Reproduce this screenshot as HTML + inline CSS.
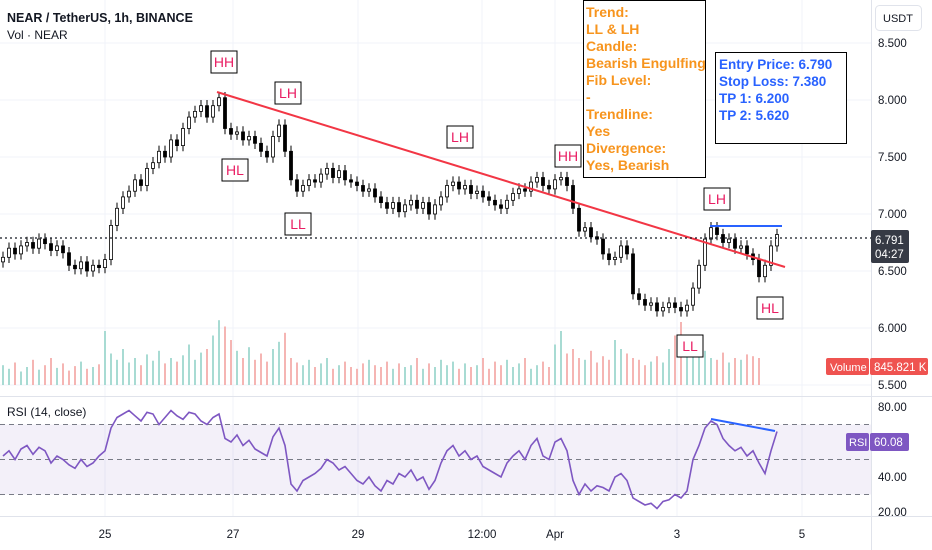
<!DOCTYPE html>
<html><head><meta charset="utf-8"><style>
body{margin:0;background:#fff;font-family:"Liberation Sans",sans-serif;}
svg{display:block}
text{font-family:"Liberation Sans",sans-serif}
</style></head><body>
<svg id="c" width="932" height="550" xmlns="http://www.w3.org/2000/svg"></svg>
<script>
const closes=[6.62,6.70,6.65,6.72,6.75,6.70,6.78,6.74,6.68,6.72,6.66,6.55,6.52,6.58,6.50,6.55,6.53,6.60,
6.90,7.05,7.15,7.20,7.30,7.25,7.40,7.45,7.55,7.50,7.65,7.60,7.75,7.85,7.90,7.95,7.85,7.95,8.02,
7.75,7.70,7.72,7.65,7.68,7.62,7.55,7.50,7.68,7.78,7.55,7.30,7.20,7.25,7.30,7.28,7.35,7.40,7.32,7.38,7.30,7.28,7.25,7.20,7.22,7.15,7.10,7.05,7.10,7.02,7.08,7.12,7.05,7.10,7.00,7.08,
7.15,7.25,7.28,7.22,7.25,7.18,7.20,7.15,7.12,7.08,7.05,7.12,7.18,7.22,7.20,7.28,7.32,7.25,7.22,7.30,7.32,7.25,
7.05,6.85,6.88,6.80,6.78,6.65,6.60,6.62,6.72,6.65,6.30,6.25,6.20,6.22,6.15,6.18,6.22,6.18,6.15,6.20,
6.35,6.55,6.78,6.88,6.82,6.75,6.78,6.70,6.72,6.65,6.60,6.45,6.55,6.72,6.82];
const volumes=[22,18,25,15,20,28,17,22,30,19,24,16,21,26,18,20,23,60,
35,28,40,25,30,22,34,27,38,24,30,26,33,45,28,36,40,55,72,
65,50,38,30,42,28,35,26,40,48,58,30,25,22,28,20,24,30,18,22,26,20,18,24,28,22,20,26,18,24,20,22,30,18,24,
20,28,22,26,18,24,20,22,30,18,26,22,28,20,24,30,18,22,26,20,
45,60,35,40,30,28,38,25,32,28,50,40,35,30,28,22,26,32,25,40,
55,70,48,42,35,38,30,28,36,25,30,28,34,32,30];
const rsiVals=[52,55,50,56,58,53,57,55,48,52,50,47,45,50,46,48,52,55,
68,74,76,78,75,72,77,76,70,74,78,75,73,77,76,72,70,74,76,
62,60,64,58,61,56,54,52,63,68,58,36,32,38,40,42,45,50,48,44,46,42,38,36,
40,35,32,38,36,42,40,44,38,40,33,38,48,55,58,52,55,50,52,46,44,42,40,
48,52,55,50,58,62,52,50,60,62,55,38,30,36,32,35,34,32,40,42,38,
28,26,24,25,22,26,27,30,28,32,50,58,68,72,70,62,58,55,57,52,55,48,42,55,66];
const priceTicks=["8.500","8.000","7.500","7.000","6.500","6.000","5.500"];
const rsiTicks=["80.00","60.00","40.00","20.00"];
const timeLabels=["25","27","29","12:00","Apr","3","5"];
const timeX=[105,233,358,482,555,677,802];

const S=document.getElementById('c');const NS="http://www.w3.org/2000/svg";
function el(t,a,txt){const e=document.createElementNS(NS,t);for(const k in a)e.setAttribute(k,a[k]);if(txt!==undefined)e.textContent=txt;S.appendChild(e);return e;}
const py=p=>100+(8-p)*114;
const ry=v=>407+(80-v)*1.75;
const cx=i=>3+i*6;
const vy=v=>385-v*0.9;

for(let k=0;k<priceTicks.length;k++){const g=el('line',{x1:0,x2:871,y1:py(+priceTicks[k]),y2:py(+priceTicks[k]),stroke:'#f0f3fa'});
}
for(let k=0;k<timeX.length;k++){const g=el('line',{x1:timeX[k],x2:timeX[k],y1:0,y2:516,stroke:'#f0f3fa'});
}

for(let i=0;i<volumes.length;i++){const up=i===0||closes[i]>=closes[i-1];
const b=el('rect',{x:cx(i)-1,y:vy(volumes[i]),width:2,height:385-vy(volumes[i]),fill:up?'#a8dbd3':'#f5b5b3'});
}

for(let i=0;i<closes.length;i++){const o=i===0?closes[0]-0.04:closes[i-1],c=closes[i];
const hi=Math.max(o,c)+0.05,lo=Math.min(o,c)-0.05;
const w=el('line',{x1:cx(i),x2:cx(i),y1:py(hi),y2:py(lo),stroke:'#000'});

const top=py(Math.max(o,c)),h=Math.max(1,Math.abs(py(o)-py(c)));
const r=el('rect',{x:cx(i)-1.5,y:top,width:3,height:h,fill:c>=o?'#fff':'#000',stroke:'#000','stroke-width':0.8});
}

let l=el('line',{x1:217,y1:92,x2:785,y2:267,stroke:'#f23645','stroke-width':2});

l=el('line',{x1:710,y1:226,x2:782,y2:226,stroke:'#2962ff','stroke-width':2});

l=el('line',{x1:0,y1:238,x2:871,y2:238,stroke:'#131722','stroke-width':1.3,'stroke-dasharray':'2,3'});


const labs=[["HH",224,62],["LH",288,93],["HL",235,170],["LL",298,224],["LH",460,137],["HH",568,156],["LH",717,199],["HL",770,308],["LL",690,346]];
for(const [t,x,y] of labs){const b=el('rect',{x:x-13,y:y-11,width:26,height:22,fill:'#fff',stroke:'#000'});

const tx=el('text',{x:x,y:y+5,'text-anchor':'middle','font-size':14,fill:'#e91e63'},t);
}

let bx=el('rect',{x:583.5,y:0.5,width:122,height:177,fill:'#fff',stroke:'#000'});

const oLines=["Trend:","LL & LH","Candle:","Bearish Engulfing","Fib Level:","-","Trendline:","Yes","Divergence:","Yes, Bearish"];
oLines.forEach((t,k)=>{const tx=el('text',{x:586,y:17+k*17,'font-size':14,'font-weight':'bold',fill:'#f7941d'},t);
});
bx=el('rect',{x:715.5,y:52.5,width:131,height:91,fill:'#fff',stroke:'#000'});

["Entry Price: 6.790","Stop Loss: 7.380","TP 1: 6.200","TP 2: 5.620"].forEach((t,k)=>{const tx=el('text',{x:719,y:69+k*17,'font-size':13.5,'font-weight':'bold',fill:'#2962ff'},t);
});

l=el('line',{x1:0,y1:396.5,x2:932,y2:396.5,stroke:'#e0e3eb'});
let f=el('rect',{x:0,y:ry(70),width:871,height:ry(30)-ry(70),fill:'#7e57c2','fill-opacity':0.09});

for(const v of [70,50,30]){const d=el('line',{x1:0,x2:871,y1:ry(v),y2:ry(v),stroke:'#787b86','stroke-dasharray':'5,4'});
}
let pts=rsiVals.map((v,i)=>cx(i)+','+ry(v).toFixed(1)).join(' ');
const rl=el('polyline',{points:pts,fill:'none',stroke:'#7e57c2','stroke-width':1.6});

l=el('line',{x1:711,y1:419,x2:775,y2:431,stroke:'#2962ff','stroke-width':2});


l=el('line',{x1:871.5,y1:0,x2:871.5,y2:550,stroke:'#e0e3eb'});
l=el('line',{x1:0,y1:516.5,x2:932,y2:516.5,stroke:'#e0e3eb'});
for(const t of priceTicks){const tx=el('text',{x:878,y:py(+t)+4,'font-size':11.5,fill:'#131722'},t);
}
for(const t of rsiTicks){const tx=el('text',{x:878,y:ry(+t)+4,'font-size':11.5,fill:'#131722'},t);
}
timeLabels.forEach((t,k)=>{const tx=el('text',{x:timeX[k],y:538,'text-anchor':'middle','font-size':11.5,fill:'#131722'},t);
});

bx=el('rect',{x:875.5,y:5.5,width:46,height:25,rx:4,fill:'#fff',stroke:'#e0e3eb'});
let tx=el('text',{x:898,y:22,'text-anchor':'middle','font-size':11,fill:'#131722'},'USDT');
bx=el('rect',{x:871,y:230,width:38,height:33,fill:'#363a45',rx:2});
tx=el('text',{x:875,y:244,'font-size':11.5,fill:'#fff'},'6.791');
tx=el('text',{x:875,y:258,'font-size':11.5,fill:'#fff'},'04:27');
bx=el('rect',{x:826,y:358,width:43,height:17,fill:'#ef5350',rx:2});
tx=el('text',{x:830,y:371,'font-size':11,fill:'#fff'},'Volume');
bx=el('rect',{x:870,y:358,width:58,height:17,fill:'#ef5350',rx:2});
tx=el('text',{x:874,y:371,'font-size':11.5,fill:'#fff'},'845.821 K');
bx=el('rect',{x:846,y:433,width:23,height:18,fill:'#7e57c2',rx:2});
tx=el('text',{x:849,y:446,'font-size':11,fill:'#fff'},'RSI');
bx=el('rect',{x:870,y:433,width:39,height:18,fill:'#7e57c2',rx:2});
tx=el('text',{x:874,y:446,'font-size':11.5,fill:'#fff'},'60.08');

tx=el('text',{x:7,y:22,'font-size':12.5,'font-weight':'bold',fill:'#131722'},'NEAR / TetherUS, 1h, BINANCE');
tx=el('text',{x:7,y:39,'font-size':12,fill:'#131722'},'Vol · NEAR');
tx=el('text',{x:7,y:416,'font-size':12,fill:'#131722'},'RSI (14, close)');
</script>
</body></html>
